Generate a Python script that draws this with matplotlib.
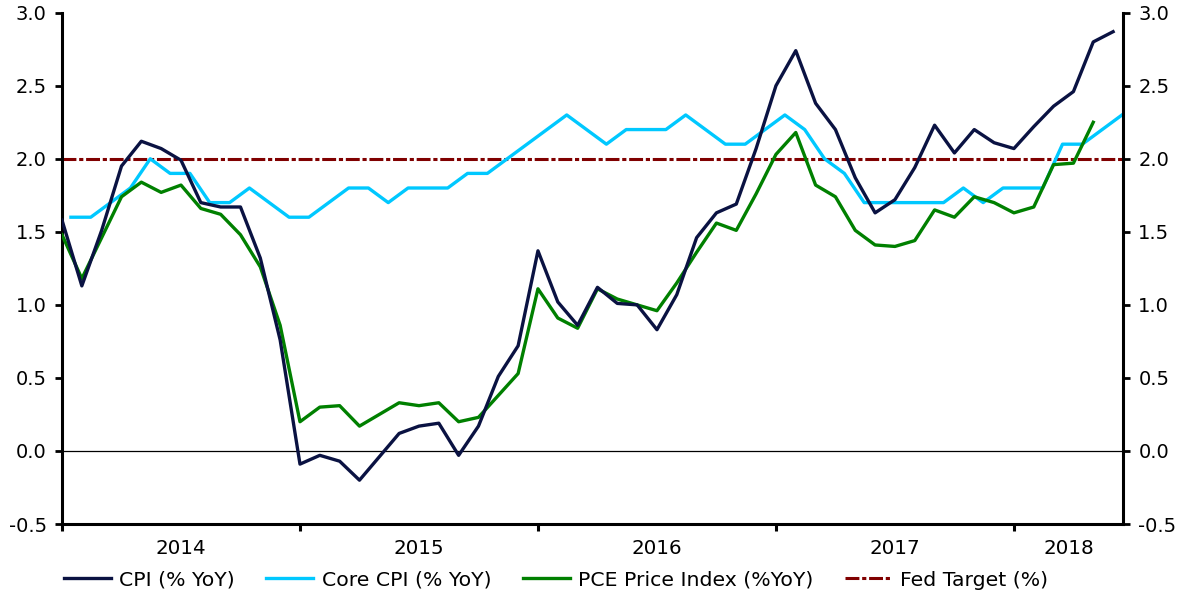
import matplotlib
matplotlib.use("Agg")
import matplotlib.pyplot as plt
import numpy as np

plt.rcParams['font.family'] = ['DejaVu Sans']
plt.rcParams['lines.scale_dashes'] = False

# Monthly data, Jan 2014 .. Jun 2018
cpi = [1.58, 1.13, 1.51, 1.95, 2.12, 2.07, 1.99, 1.70, 1.67, 1.67, 1.32, 0.76,
       -0.09, -0.03, -0.07, -0.20, -0.04, 0.12, 0.17, 0.19, -0.03, 0.17, 0.51, 0.72,
       1.37, 1.02, 0.86, 1.12, 1.01, 1.00, 0.83, 1.07, 1.46, 1.63, 1.69, 2.07,
       2.50, 2.74, 2.38, 2.20, 1.87, 1.63, 1.72, 1.94, 2.23, 2.04, 2.20, 2.11,
       2.07, 2.22, 2.36, 2.46, 2.80, 2.87]
core_cpi = [1.6, 1.6, 1.7, 1.8, 2.0, 1.9, 1.9, 1.7, 1.7, 1.8, 1.7, 1.6,
            1.6, 1.7, 1.8, 1.8, 1.7, 1.8, 1.8, 1.8, 1.9, 1.9, 2.0, 2.1,
            2.2, 2.3, 2.2, 2.1, 2.2, 2.2, 2.2, 2.3, 2.2, 2.1, 2.1, 2.2,
            2.3, 2.2, 2.0, 1.9, 1.7, 1.7, 1.7, 1.7, 1.7, 1.8, 1.7, 1.8,
            1.8, 1.8, 2.1, 2.1, 2.2, 2.3]
pce = [1.48, 1.18, 1.46, 1.74, 1.84, 1.77, 1.82, 1.66, 1.62, 1.48, 1.26, 0.86,
       0.20, 0.30, 0.31, 0.17, 0.25, 0.33, 0.31, 0.33, 0.20, 0.23, 0.38, 0.53,
       1.11, 0.91, 0.84, 1.11, 1.04, 1.00, 0.96, 1.15, 1.36, 1.56, 1.51, 1.76,
       2.03, 2.18, 1.82, 1.74, 1.51, 1.41, 1.40, 1.44, 1.65, 1.60, 1.74, 1.70,
       1.63, 1.67, 1.96, 1.97, 2.25]
fed_target = 2.0
years = ['2014', '2015', '2016', '2017', '2018']
y_ticks = [-0.5, 0.0, 0.5, 1.0, 1.5, 2.0, 2.5, 3.0]

c_cpi = '#0a1242'
c_core = '#00c8ff'
c_pce = '#008000'
c_fed = '#800000'

fig = plt.figure(figsize=(11.9, 5.95), dpi=100)
ax = fig.add_axes([62/1190, 1-524/595, (1123-62)/1190, (524-12.7)/595])

x_cpi = np.arange(len(cpi))
x_core = np.arange(len(core_cpi)) + 0.45
x_pce = np.arange(len(pce))
xmax = 53.5

ax.axhline(0, color='black', lw=0.9, zorder=1)
l_fed, = ax.plot([0, xmax], [fed_target, fed_target], color=c_fed, lw=2.2, zorder=2)
l_fed.set_dashes([10, 2, 3, 2])
l_core, = ax.plot(x_core, core_cpi, color=c_core, lw=2.4, zorder=3)
l_pce, = ax.plot(x_pce, pce, color=c_pce, lw=2.4, zorder=4)
l_cpi, = ax.plot(x_cpi, cpi, color=c_cpi, lw=2.4, zorder=5)

ax.set_xlim(0, xmax)
ax.set_ylim(-0.5, 3.0)
ax.set_yticks(y_ticks)
ax.set_yticklabels([f'{v:.1f}' for v in y_ticks])

bounds = [0, 12, 24, 36, 48]
ax.set_xticks(bounds)
ax.set_xticklabels([''] * len(bounds))
centers = [b + 6 for b in bounds[:-1]] + [(bounds[-1] + xmax) / 2]
ax.set_xticks(centers, minor=True)
ax.set_xticklabels(years, minor=True)
ax.tick_params(axis='x', which='major', length=5, width=2.2, direction='out')
ax.tick_params(axis='x', which='minor', length=0, pad=11, labelsize=14.3)
ax.tick_params(axis='y', length=5, width=2.0, pad=6, labelsize=14)

ax.spines['top'].set_visible(False)
ax.spines['right'].set_visible(False)
for s in ['left', 'bottom']:
    ax.spines[s].set_linewidth(2.2)

ax2 = ax.twinx()
ax2.set_ylim(-0.5, 3.0)
ax2.set_yticks(y_ticks)
ax2.set_yticklabels([f'{v:.1f}' for v in y_ticks])
ax2.tick_params(axis='y', length=5, width=2.0, pad=6, labelsize=14)
ax2.spines['top'].set_visible(False)
ax2.spines['left'].set_visible(False)
ax2.spines['bottom'].set_visible(False)
ax2.spines['right'].set_linewidth(2.2)

leg = fig.legend([l_cpi, l_core, l_pce, l_fed],
                 ['CPI (% YoY)', 'Core CPI (% YoY)', 'PCE Price Index (%YoY)', 'Fed Target (%)'],
                 loc='center', bbox_to_anchor=(556/1190, 1-580/595), ncol=4, frameon=False,
                 fontsize=14.7, handlelength=2.3, handletextpad=0.4, columnspacing=1.55,
                 borderaxespad=0)

fig.savefig('out.png', dpi=100)
